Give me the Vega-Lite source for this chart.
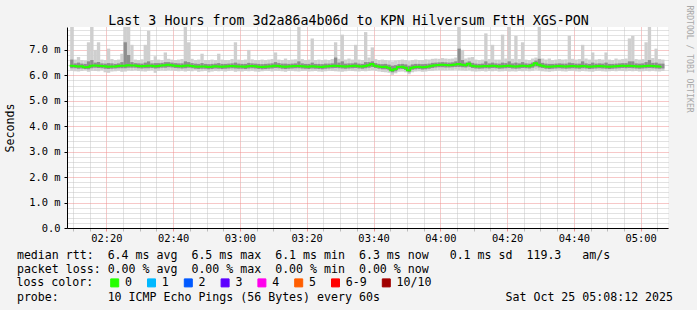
{
"$schema":"https://vega.github.io/schema/vega-lite/v6.json",
"autosize":"none",
"width":601,"height":201,
"padding":{"left":67,"top":27,"right":29,"bottom":82},
"background":"#f3f3f3",
"view":{"fill":"#ffffff","stroke":null},
"config":{"font":"DejaVu Sans Mono"},
"title":{"text":"Last 3 Hours from 3d2a86a4b06d to KPN Hilversum FttH XGS-PON","font":"DejaVu Sans Mono","fontSize":13.3,"fontWeight":"normal","color":"#000000","anchor":"middle","dx":-19,"dy":37,"offset":4,"baseline":"alphabetic"},
"data":{"values":[
{"t":"2025-10-25T02:09Z","med":6.38,"lo":6.18,"hi":7.9,"dlo":6.28,"dhi":6.62},
{"t":"2025-10-25T02:10Z","med":6.37,"lo":6.16,"hi":6.62,"dlo":6.28,"dhi":6.47},
{"t":"2025-10-25T02:11Z","med":6.35,"lo":6.15,"hi":6.72,"dlo":6.26,"dhi":6.5},
{"t":"2025-10-25T02:12Z","med":6.36,"lo":6.17,"hi":6.6,"dlo":6.27,"dhi":6.46},
{"t":"2025-10-25T02:13Z","med":6.32,"lo":6.2,"hi":6.58,"dlo":6.25,"dhi":6.45},
{"t":"2025-10-25T02:14Z","med":6.33,"lo":6.14,"hi":7.3,"dlo":6.24,"dhi":6.55},
{"t":"2025-10-25T02:15Z","med":6.38,"lo":6.18,"hi":7.9,"dlo":6.28,"dhi":6.6},
{"t":"2025-10-25T02:16Z","med":6.39,"lo":6.17,"hi":7.0,"dlo":6.3,"dhi":6.5},
{"t":"2025-10-25T02:17Z","med":6.38,"lo":6.16,"hi":7.3,"dlo":6.29,"dhi":6.52},
{"t":"2025-10-25T02:18Z","med":6.37,"lo":6.2,"hi":6.62,"dlo":6.28,"dhi":6.47},
{"t":"2025-10-25T02:19Z","med":6.36,"lo":6.12,"hi":6.6,"dlo":6.26,"dhi":6.46},
{"t":"2025-10-25T02:20Z","med":6.34,"lo":6.1,"hi":7.05,"dlo":6.25,"dhi":6.48},
{"t":"2025-10-25T02:21Z","med":6.35,"lo":6.15,"hi":6.64,"dlo":6.26,"dhi":6.47},
{"t":"2025-10-25T02:22Z","med":6.35,"lo":6.16,"hi":6.6,"dlo":6.27,"dhi":6.45},
{"t":"2025-10-25T02:23Z","med":6.37,"lo":6.18,"hi":6.62,"dlo":6.28,"dhi":6.47},
{"t":"2025-10-25T02:24Z","med":6.38,"lo":6.14,"hi":6.85,"dlo":6.28,"dhi":6.52},
{"t":"2025-10-25T02:25Z","med":6.38,"lo":6.15,"hi":7.9,"dlo":6.28,"dhi":7.3},
{"t":"2025-10-25T02:26Z","med":6.4,"lo":6.19,"hi":7.9,"dlo":6.3,"dhi":6.8},
{"t":"2025-10-25T02:27Z","med":6.39,"lo":6.18,"hi":7.2,"dlo":6.3,"dhi":6.52},
{"t":"2025-10-25T02:28Z","med":6.39,"lo":6.2,"hi":6.62,"dlo":6.3,"dhi":6.48},
{"t":"2025-10-25T02:29Z","med":6.37,"lo":6.17,"hi":6.6,"dlo":6.28,"dhi":6.47},
{"t":"2025-10-25T02:30Z","med":6.36,"lo":6.16,"hi":6.63,"dlo":6.27,"dhi":6.46},
{"t":"2025-10-25T02:31Z","med":6.37,"lo":6.15,"hi":7.2,"dlo":6.28,"dhi":6.5},
{"t":"2025-10-25T02:32Z","med":6.38,"lo":6.18,"hi":7.75,"dlo":6.28,"dhi":6.55},
{"t":"2025-10-25T02:33Z","med":6.38,"lo":6.2,"hi":6.6,"dlo":6.29,"dhi":6.47},
{"t":"2025-10-25T02:34Z","med":6.36,"lo":6.1,"hi":6.75,"dlo":6.27,"dhi":6.48},
{"t":"2025-10-25T02:35Z","med":6.37,"lo":6.17,"hi":6.62,"dlo":6.28,"dhi":6.48},
{"t":"2025-10-25T02:36Z","med":6.39,"lo":6.19,"hi":6.6,"dlo":6.3,"dhi":6.49},
{"t":"2025-10-25T02:37Z","med":6.4,"lo":6.18,"hi":6.9,"dlo":6.3,"dhi":6.52},
{"t":"2025-10-25T02:38Z","med":6.42,"lo":6.2,"hi":6.65,"dlo":6.32,"dhi":6.52},
{"t":"2025-10-25T02:39Z","med":6.4,"lo":6.19,"hi":6.62,"dlo":6.31,"dhi":6.5},
{"t":"2025-10-25T02:40Z","med":6.38,"lo":6.17,"hi":6.6,"dlo":6.29,"dhi":6.48},
{"t":"2025-10-25T02:41Z","med":6.37,"lo":6.16,"hi":6.62,"dlo":6.28,"dhi":6.47},
{"t":"2025-10-25T02:42Z","med":6.36,"lo":6.18,"hi":6.64,"dlo":6.27,"dhi":6.47},
{"t":"2025-10-25T02:43Z","med":6.38,"lo":6.15,"hi":7.9,"dlo":6.28,"dhi":6.55},
{"t":"2025-10-25T02:44Z","med":6.39,"lo":6.17,"hi":7.3,"dlo":6.3,"dhi":6.52},
{"t":"2025-10-25T02:45Z","med":6.37,"lo":6.16,"hi":6.65,"dlo":6.28,"dhi":6.48},
{"t":"2025-10-25T02:46Z","med":6.35,"lo":6.2,"hi":6.6,"dlo":6.26,"dhi":6.46},
{"t":"2025-10-25T02:47Z","med":6.34,"lo":6.14,"hi":6.62,"dlo":6.25,"dhi":6.45},
{"t":"2025-10-25T02:48Z","med":6.35,"lo":6.16,"hi":6.85,"dlo":6.26,"dhi":6.48},
{"t":"2025-10-25T02:49Z","med":6.35,"lo":6.18,"hi":6.6,"dlo":6.26,"dhi":6.45},
{"t":"2025-10-25T02:50Z","med":6.33,"lo":6.12,"hi":6.6,"dlo":6.24,"dhi":6.44},
{"t":"2025-10-25T02:51Z","med":6.34,"lo":6.15,"hi":6.62,"dlo":6.25,"dhi":6.45},
{"t":"2025-10-25T02:52Z","med":6.36,"lo":6.17,"hi":6.6,"dlo":6.27,"dhi":6.46},
{"t":"2025-10-25T02:53Z","med":6.35,"lo":6.16,"hi":6.85,"dlo":6.26,"dhi":6.48},
{"t":"2025-10-25T02:54Z","med":6.34,"lo":6.18,"hi":6.62,"dlo":6.25,"dhi":6.45},
{"t":"2025-10-25T02:55Z","med":6.35,"lo":6.15,"hi":6.6,"dlo":6.26,"dhi":6.45},
{"t":"2025-10-25T02:56Z","med":6.36,"lo":6.17,"hi":6.6,"dlo":6.27,"dhi":6.46},
{"t":"2025-10-25T02:57Z","med":6.37,"lo":6.19,"hi":6.64,"dlo":6.28,"dhi":6.47},
{"t":"2025-10-25T02:58Z","med":6.36,"lo":6.14,"hi":7.3,"dlo":6.27,"dhi":6.5},
{"t":"2025-10-25T02:59Z","med":6.35,"lo":6.16,"hi":6.62,"dlo":6.26,"dhi":6.46},
{"t":"2025-10-25T03:00Z","med":6.35,"lo":6.15,"hi":6.6,"dlo":6.26,"dhi":6.45},
{"t":"2025-10-25T03:01Z","med":6.34,"lo":6.17,"hi":6.62,"dlo":6.25,"dhi":6.45},
{"t":"2025-10-25T03:02Z","med":6.36,"lo":6.16,"hi":7.0,"dlo":6.27,"dhi":6.49},
{"t":"2025-10-25T03:03Z","med":6.37,"lo":6.18,"hi":6.63,"dlo":6.28,"dhi":6.47},
{"t":"2025-10-25T03:04Z","med":6.36,"lo":6.15,"hi":6.6,"dlo":6.27,"dhi":6.46},
{"t":"2025-10-25T03:05Z","med":6.34,"lo":6.14,"hi":6.6,"dlo":6.25,"dhi":6.45},
{"t":"2025-10-25T03:06Z","med":6.33,"lo":6.16,"hi":6.62,"dlo":6.24,"dhi":6.44},
{"t":"2025-10-25T03:07Z","med":6.34,"lo":6.18,"hi":6.6,"dlo":6.25,"dhi":6.45},
{"t":"2025-10-25T03:08Z","med":6.35,"lo":6.17,"hi":6.62,"dlo":6.26,"dhi":6.46},
{"t":"2025-10-25T03:09Z","med":6.36,"lo":6.15,"hi":6.64,"dlo":6.27,"dhi":6.47},
{"t":"2025-10-25T03:10Z","med":6.38,"lo":6.18,"hi":6.9,"dlo":6.29,"dhi":6.52},
{"t":"2025-10-25T03:11Z","med":6.37,"lo":6.17,"hi":6.62,"dlo":6.28,"dhi":6.48},
{"t":"2025-10-25T03:12Z","med":6.35,"lo":6.16,"hi":6.6,"dlo":6.26,"dhi":6.46},
{"t":"2025-10-25T03:13Z","med":6.34,"lo":6.14,"hi":6.66,"dlo":6.25,"dhi":6.46},
{"t":"2025-10-25T03:14Z","med":6.35,"lo":6.17,"hi":6.6,"dlo":6.26,"dhi":6.45},
{"t":"2025-10-25T03:15Z","med":6.36,"lo":6.18,"hi":6.62,"dlo":6.27,"dhi":6.46},
{"t":"2025-10-25T03:16Z","med":6.37,"lo":6.16,"hi":6.63,"dlo":6.28,"dhi":6.47},
{"t":"2025-10-25T03:17Z","med":6.37,"lo":6.15,"hi":7.9,"dlo":6.28,"dhi":6.55},
{"t":"2025-10-25T03:18Z","med":6.36,"lo":6.17,"hi":6.64,"dlo":6.27,"dhi":6.47},
{"t":"2025-10-25T03:19Z","med":6.35,"lo":6.18,"hi":6.6,"dlo":6.26,"dhi":6.45},
{"t":"2025-10-25T03:20Z","med":6.34,"lo":6.15,"hi":6.62,"dlo":6.25,"dhi":6.45},
{"t":"2025-10-25T03:21Z","med":6.36,"lo":6.16,"hi":7.45,"dlo":6.27,"dhi":6.5},
{"t":"2025-10-25T03:22Z","med":6.35,"lo":6.17,"hi":6.6,"dlo":6.26,"dhi":6.45},
{"t":"2025-10-25T03:23Z","med":6.34,"lo":6.15,"hi":6.62,"dlo":6.25,"dhi":6.45},
{"t":"2025-10-25T03:24Z","med":6.33,"lo":6.14,"hi":6.6,"dlo":6.24,"dhi":6.44},
{"t":"2025-10-25T03:25Z","med":6.35,"lo":6.16,"hi":6.62,"dlo":6.26,"dhi":6.46},
{"t":"2025-10-25T03:26Z","med":6.36,"lo":6.18,"hi":6.6,"dlo":6.27,"dhi":6.46},
{"t":"2025-10-25T03:27Z","med":6.37,"lo":6.17,"hi":6.64,"dlo":6.28,"dhi":6.47},
{"t":"2025-10-25T03:28Z","med":6.38,"lo":6.16,"hi":7.3,"dlo":6.29,"dhi":6.7},
{"t":"2025-10-25T03:29Z","med":6.37,"lo":6.15,"hi":6.65,"dlo":6.28,"dhi":6.5},
{"t":"2025-10-25T03:30Z","med":6.36,"lo":6.14,"hi":7.6,"dlo":6.27,"dhi":6.55},
{"t":"2025-10-25T03:31Z","med":6.35,"lo":6.16,"hi":6.62,"dlo":6.26,"dhi":6.46},
{"t":"2025-10-25T03:32Z","med":6.36,"lo":6.18,"hi":6.66,"dlo":6.27,"dhi":6.47},
{"t":"2025-10-25T03:33Z","med":6.37,"lo":6.17,"hi":6.62,"dlo":6.28,"dhi":6.47},
{"t":"2025-10-25T03:34Z","med":6.38,"lo":6.16,"hi":7.2,"dlo":6.29,"dhi":6.5},
{"t":"2025-10-25T03:35Z","med":6.36,"lo":6.15,"hi":6.62,"dlo":6.27,"dhi":6.46},
{"t":"2025-10-25T03:36Z","med":6.35,"lo":6.17,"hi":6.6,"dlo":6.26,"dhi":6.45},
{"t":"2025-10-25T03:37Z","med":6.37,"lo":6.16,"hi":7.7,"dlo":6.28,"dhi":6.52},
{"t":"2025-10-25T03:38Z","med":6.4,"lo":6.18,"hi":6.7,"dlo":6.3,"dhi":6.52},
{"t":"2025-10-25T03:39Z","med":6.45,"lo":6.2,"hi":7.1,"dlo":6.33,"dhi":6.55},
{"t":"2025-10-25T03:40Z","med":6.38,"lo":6.17,"hi":6.64,"dlo":6.29,"dhi":6.48},
{"t":"2025-10-25T03:41Z","med":6.35,"lo":6.15,"hi":6.6,"dlo":6.26,"dhi":6.45},
{"t":"2025-10-25T03:42Z","med":6.33,"lo":6.13,"hi":6.62,"dlo":6.24,"dhi":6.44},
{"t":"2025-10-25T03:43Z","med":6.34,"lo":6.12,"hi":6.6,"dlo":6.24,"dhi":6.45},
{"t":"2025-10-25T03:44Z","med":6.3,"lo":6.1,"hi":6.58,"dlo":6.2,"dhi":6.42},
{"t":"2025-10-25T03:45Z","med":6.2,"lo":6.02,"hi":6.55,"dlo":6.12,"dhi":6.38},
{"t":"2025-10-25T03:46Z","med":6.25,"lo":6.08,"hi":6.58,"dlo":6.16,"dhi":6.4},
{"t":"2025-10-25T03:47Z","med":6.33,"lo":6.14,"hi":6.6,"dlo":6.24,"dhi":6.44},
{"t":"2025-10-25T03:48Z","med":6.34,"lo":6.15,"hi":6.62,"dlo":6.25,"dhi":6.45},
{"t":"2025-10-25T03:49Z","med":6.3,"lo":6.12,"hi":6.6,"dlo":6.21,"dhi":6.43},
{"t":"2025-10-25T03:50Z","med":6.2,"lo":6.04,"hi":6.56,"dlo":6.12,"dhi":6.38},
{"t":"2025-10-25T03:51Z","med":6.3,"lo":6.12,"hi":6.6,"dlo":6.22,"dhi":6.43},
{"t":"2025-10-25T03:52Z","med":6.33,"lo":6.15,"hi":6.62,"dlo":6.24,"dhi":6.45},
{"t":"2025-10-25T03:53Z","med":6.34,"lo":6.16,"hi":6.6,"dlo":6.25,"dhi":6.45},
{"t":"2025-10-25T03:54Z","med":6.32,"lo":6.14,"hi":6.6,"dlo":6.23,"dhi":6.44},
{"t":"2025-10-25T03:55Z","med":6.33,"lo":6.15,"hi":6.63,"dlo":6.24,"dhi":6.45},
{"t":"2025-10-25T03:56Z","med":6.35,"lo":6.17,"hi":6.62,"dlo":6.26,"dhi":6.46},
{"t":"2025-10-25T03:57Z","med":6.38,"lo":6.18,"hi":6.65,"dlo":6.29,"dhi":6.49},
{"t":"2025-10-25T03:58Z","med":6.4,"lo":6.2,"hi":6.66,"dlo":6.31,"dhi":6.5},
{"t":"2025-10-25T03:59Z","med":6.41,"lo":6.21,"hi":6.65,"dlo":6.32,"dhi":6.51},
{"t":"2025-10-25T04:00Z","med":6.42,"lo":6.2,"hi":6.68,"dlo":6.32,"dhi":6.52},
{"t":"2025-10-25T04:01Z","med":6.41,"lo":6.19,"hi":6.66,"dlo":6.31,"dhi":6.51},
{"t":"2025-10-25T04:02Z","med":6.4,"lo":6.2,"hi":6.65,"dlo":6.31,"dhi":6.5},
{"t":"2025-10-25T04:03Z","med":6.41,"lo":6.2,"hi":6.66,"dlo":6.32,"dhi":6.51},
{"t":"2025-10-25T04:04Z","med":6.43,"lo":6.22,"hi":6.7,"dlo":6.33,"dhi":6.55},
{"t":"2025-10-25T04:05Z","med":6.45,"lo":6.2,"hi":7.9,"dlo":6.33,"dhi":7.05},
{"t":"2025-10-25T04:06Z","med":6.42,"lo":6.19,"hi":7.0,"dlo":6.32,"dhi":6.6},
{"t":"2025-10-25T04:07Z","med":6.4,"lo":6.18,"hi":6.66,"dlo":6.31,"dhi":6.5},
{"t":"2025-10-25T04:08Z","med":6.46,"lo":6.2,"hi":6.7,"dlo":6.34,"dhi":6.55},
{"t":"2025-10-25T04:09Z","med":6.38,"lo":6.16,"hi":6.72,"dlo":6.29,"dhi":6.49},
{"t":"2025-10-25T04:10Z","med":6.36,"lo":6.15,"hi":6.62,"dlo":6.27,"dhi":6.46},
{"t":"2025-10-25T04:11Z","med":6.35,"lo":6.16,"hi":6.6,"dlo":6.26,"dhi":6.45},
{"t":"2025-10-25T04:12Z","med":6.36,"lo":6.17,"hi":6.62,"dlo":6.27,"dhi":6.46},
{"t":"2025-10-25T04:13Z","med":6.37,"lo":6.15,"hi":7.65,"dlo":6.28,"dhi":6.55},
{"t":"2025-10-25T04:14Z","med":6.36,"lo":6.17,"hi":6.64,"dlo":6.27,"dhi":6.47},
{"t":"2025-10-25T04:15Z","med":6.38,"lo":6.16,"hi":7.2,"dlo":6.29,"dhi":6.5},
{"t":"2025-10-25T04:16Z","med":6.37,"lo":6.18,"hi":6.62,"dlo":6.28,"dhi":6.47},
{"t":"2025-10-25T04:17Z","med":6.35,"lo":6.15,"hi":6.62,"dlo":6.26,"dhi":6.46},
{"t":"2025-10-25T04:18Z","med":6.36,"lo":6.16,"hi":7.6,"dlo":6.27,"dhi":6.5},
{"t":"2025-10-25T04:19Z","med":6.37,"lo":6.17,"hi":6.66,"dlo":6.28,"dhi":6.48},
{"t":"2025-10-25T04:20Z","med":6.38,"lo":6.15,"hi":7.9,"dlo":6.29,"dhi":6.55},
{"t":"2025-10-25T04:21Z","med":6.36,"lo":6.16,"hi":6.65,"dlo":6.27,"dhi":6.47},
{"t":"2025-10-25T04:22Z","med":6.35,"lo":6.15,"hi":7.55,"dlo":6.26,"dhi":6.5},
{"t":"2025-10-25T04:23Z","med":6.36,"lo":6.17,"hi":6.64,"dlo":6.27,"dhi":6.47},
{"t":"2025-10-25T04:24Z","med":6.38,"lo":6.16,"hi":7.3,"dlo":6.29,"dhi":6.52},
{"t":"2025-10-25T04:25Z","med":6.37,"lo":6.18,"hi":6.62,"dlo":6.28,"dhi":6.47},
{"t":"2025-10-25T04:26Z","med":6.36,"lo":6.16,"hi":6.6,"dlo":6.27,"dhi":6.46},
{"t":"2025-10-25T04:27Z","med":6.4,"lo":6.18,"hi":6.66,"dlo":6.3,"dhi":6.5},
{"t":"2025-10-25T04:28Z","med":6.48,"lo":6.22,"hi":6.7,"dlo":6.35,"dhi":6.58},
{"t":"2025-10-25T04:29Z","med":6.42,"lo":6.19,"hi":7.9,"dlo":6.31,"dhi":6.65},
{"t":"2025-10-25T04:30Z","med":6.38,"lo":6.16,"hi":6.66,"dlo":6.29,"dhi":6.49},
{"t":"2025-10-25T04:31Z","med":6.35,"lo":6.15,"hi":6.62,"dlo":6.26,"dhi":6.46},
{"t":"2025-10-25T04:32Z","med":6.34,"lo":6.14,"hi":6.66,"dlo":6.25,"dhi":6.45},
{"t":"2025-10-25T04:33Z","med":6.35,"lo":6.16,"hi":6.6,"dlo":6.26,"dhi":6.45},
{"t":"2025-10-25T04:34Z","med":6.36,"lo":6.17,"hi":6.62,"dlo":6.27,"dhi":6.46},
{"t":"2025-10-25T04:35Z","med":6.37,"lo":6.18,"hi":6.64,"dlo":6.28,"dhi":6.47},
{"t":"2025-10-25T04:36Z","med":6.36,"lo":6.16,"hi":6.62,"dlo":6.27,"dhi":6.46},
{"t":"2025-10-25T04:37Z","med":6.35,"lo":6.15,"hi":6.63,"dlo":6.26,"dhi":6.46},
{"t":"2025-10-25T04:38Z","med":6.36,"lo":6.17,"hi":7.55,"dlo":6.27,"dhi":6.5},
{"t":"2025-10-25T04:39Z","med":6.37,"lo":6.18,"hi":6.65,"dlo":6.28,"dhi":6.48},
{"t":"2025-10-25T04:40Z","med":6.36,"lo":6.16,"hi":6.62,"dlo":6.27,"dhi":6.46},
{"t":"2025-10-25T04:41Z","med":6.35,"lo":6.15,"hi":6.64,"dlo":6.26,"dhi":6.46},
{"t":"2025-10-25T04:42Z","med":6.37,"lo":6.17,"hi":7.2,"dlo":6.28,"dhi":6.55},
{"t":"2025-10-25T04:43Z","med":6.36,"lo":6.16,"hi":6.66,"dlo":6.27,"dhi":6.47},
{"t":"2025-10-25T04:44Z","med":6.34,"lo":6.15,"hi":6.62,"dlo":6.25,"dhi":6.45},
{"t":"2025-10-25T04:45Z","med":6.35,"lo":6.14,"hi":6.9,"dlo":6.26,"dhi":6.5},
{"t":"2025-10-25T04:46Z","med":6.36,"lo":6.17,"hi":6.62,"dlo":6.27,"dhi":6.46},
{"t":"2025-10-25T04:47Z","med":6.37,"lo":6.18,"hi":6.64,"dlo":6.28,"dhi":6.47},
{"t":"2025-10-25T04:48Z","med":6.36,"lo":6.16,"hi":6.62,"dlo":6.27,"dhi":6.46},
{"t":"2025-10-25T04:49Z","med":6.35,"lo":6.15,"hi":6.9,"dlo":6.26,"dhi":6.5},
{"t":"2025-10-25T04:50Z","med":6.34,"lo":6.16,"hi":6.62,"dlo":6.25,"dhi":6.45},
{"t":"2025-10-25T04:51Z","med":6.35,"lo":6.17,"hi":6.6,"dlo":6.26,"dhi":6.45},
{"t":"2025-10-25T04:52Z","med":6.36,"lo":6.16,"hi":6.66,"dlo":6.27,"dhi":6.46},
{"t":"2025-10-25T04:53Z","med":6.37,"lo":6.18,"hi":6.62,"dlo":6.28,"dhi":6.47},
{"t":"2025-10-25T04:54Z","med":6.38,"lo":6.17,"hi":6.64,"dlo":6.29,"dhi":6.48},
{"t":"2025-10-25T04:55Z","med":6.37,"lo":6.16,"hi":6.66,"dlo":6.28,"dhi":6.48},
{"t":"2025-10-25T04:56Z","med":6.38,"lo":6.17,"hi":7.45,"dlo":6.29,"dhi":6.55},
{"t":"2025-10-25T04:57Z","med":6.37,"lo":6.16,"hi":7.55,"dlo":6.28,"dhi":6.55},
{"t":"2025-10-25T04:58Z","med":6.36,"lo":6.17,"hi":6.64,"dlo":6.27,"dhi":6.47},
{"t":"2025-10-25T04:59Z","med":6.35,"lo":6.15,"hi":6.62,"dlo":6.26,"dhi":6.46},
{"t":"2025-10-25T05:00Z","med":6.36,"lo":6.16,"hi":6.64,"dlo":6.27,"dhi":6.47},
{"t":"2025-10-25T05:01Z","med":6.37,"lo":6.17,"hi":7.3,"dlo":6.28,"dhi":6.52},
{"t":"2025-10-25T05:02Z","med":6.38,"lo":6.16,"hi":7.9,"dlo":6.29,"dhi":6.6},
{"t":"2025-10-25T05:03Z","med":6.37,"lo":6.18,"hi":6.68,"dlo":6.28,"dhi":6.49},
{"t":"2025-10-25T05:04Z","med":6.36,"lo":6.16,"hi":7.05,"dlo":6.27,"dhi":6.5},
{"t":"2025-10-25T05:05Z","med":6.35,"lo":6.15,"hi":6.64,"dlo":6.26,"dhi":6.46},
{"t":"2025-10-25T05:06Z","med":6.36,"lo":6.17,"hi":6.62,"dlo":6.27,"dhi":6.46}
]},
"layer":[
 {"mark":{"type":"bar","color":"#cfcfcf","clip":true,"binSpacing":0},
  "encoding":{
   "x":{"field":"t","type":"temporal","timeUnit":"utcyearmonthdatehoursminutes",
    "scale":{"type":"utc","domain":[1761358092000,1761368892000]},
    "axis":{"orient":"bottom",
     "values":[1761358200000,1761358500000,1761358800000,1761359100000,1761359400000,1761359700000,1761360000000,1761360300000,1761360600000,1761360900000,1761361200000,1761361500000,1761361800000,1761362100000,1761362400000,1761362700000,1761363000000,1761363300000,1761363600000,1761363900000,1761364200000,1761364500000,1761364800000,1761365100000,1761365400000,1761365700000,1761366000000,1761366300000,1761366600000,1761366900000,1761367200000,1761367500000,1761367800000,1761368100000,1761368400000,1761368700000],
     "labelExpr":"utcminutes(datum.value) % 20 == 0 ? utcFormat(datum.value, '%H:%M') : ''",
     "labelFont":"DejaVu Sans Mono","labelFontSize":10.4,"labelColor":"#000000","labelPadding":2,"labelOverlap":false,"labelFlush":false,
     "grid":true,"gridDash":[1,1],"gridOpacity":1,
     "gridColor":{"condition":{"test":"utcminutes(datum.value) % 20 == 0","value":"#ee9090"},"value":"#c4c4c4"},
     "tickSize":3,"tickColor":{"condition":{"test":"utcminutes(datum.value) % 20 == 0","value":"#ee9090"},"value":"#bbbbbb"},
     "domainColor":"#000000","domainWidth":1,
     "title":["median rtt:\u00a0\u00a06.4 ms avg\u00a0\u00a06.5 ms max\u00a0\u00a06.1 ms min\u00a0\u00a06.3 ms now\u00a0\u00a0\u00a00.1 ms sd\u00a0\u00a0119.3\u00a0\u00a0\u00a0am/s","packet loss: 0.00 % avg\u00a0\u00a00.00 % max\u00a0\u00a00.00 % min\u00a0\u00a00.00 % now"],
     "titleX":-50.6,"titleY":30,"titleAlign":"left","titleAnchor":"start","titleBaseline":"alphabetic",
     "titleFont":"DejaVu Sans Mono","titleFontSize":11.6,"titleFontWeight":"normal","titleColor":"#000000","titleLineHeight":14}},
   "y":{"field":"lo","type":"quantitative","scale":{"domain":[0,7.9],"nice":false,"zero":false},
    "axis":{"orient":"left","values":[0,0.2,0.4,0.6,0.8,1,1.2,1.4,1.6,1.8,2,2.2,2.4,2.6,2.8,3,3.2,3.4,3.6,3.8,4,4.2,4.4,4.6,4.8,5,5.2,5.4,5.6,5.8,6,6.2,6.4,6.6,6.8,7,7.2,7.4,7.6,7.8],
     "labelExpr":"datum.value == 0 ? '0.0' : (datum.value % 1 == 0 ? format(datum.value, '.1f') + ' m' : '')",
     "labelFont":"DejaVu Sans Mono","labelFontSize":10.4,"labelColor":"#000000","labelPadding":4,"labelOverlap":false,"labelFlush":false,
     "grid":true,"gridDash":[1,1],"gridOpacity":1,
     "gridColor":{"condition":{"test":"datum.value % 1 == 0","value":"#ee9090"},"value":"#c4c4c4"},
     "tickSize":3,"tickColor":{"condition":{"test":"datum.value % 1 == 0","value":"#000000"},"value":"transparent"},
     "domainColor":"#000000","domainWidth":1,
     "title":"Seconds","titleFont":"DejaVu Sans Mono","titleFontSize":11.6,"titleFontWeight":"normal","titleColor":"#000000","titleX":-57,"titleBaseline":"middle"}},
   "y2":{"field":"hi"}}},
 {"mark":{"type":"bar","color":"#8e8e8e","clip":true,"binSpacing":0},
  "encoding":{
   "x":{"field":"t","type":"temporal","timeUnit":"utcyearmonthdatehoursminutes",
    "scale":{"type":"utc","domain":[1761358092000,1761368892000]},
    "axis":{"orient":"top","grid":false,"labels":false,"ticks":false,"domain":false,
     "title":"probe:\u00a0\u00a0\u00a0\u00a0\u00a0\u00a0\u00a010 ICMP Echo Pings (56 Bytes) every 60s\u00a0\u00a0\u00a0\u00a0\u00a0\u00a0\u00a0\u00a0\u00a0\u00a0\u00a0\u00a0\u00a0\u00a0\u00a0\u00a0\u00a0\u00a0Sat Oct 25 05:08:12 2025",
     "titleX":-50.6,"titleY":273,"titleAlign":"left","titleAnchor":"start","titleBaseline":"alphabetic",
     "titleFont":"DejaVu Sans Mono","titleFontSize":11.6,"titleFontWeight":"normal","titleColor":"#000000"}},
   "y":{"field":"dlo","type":"quantitative","scale":{"domain":[0,7.9],"nice":false,"zero":false},"axis":null},
   "y2":{"field":"dhi"}}},
 {"mark":{"type":"line","interpolate":"step-after","strokeWidth":2,"clip":true},
  "encoding":{
   "x":{"field":"t","type":"temporal","timeUnit":"utcyearmonthdatehoursminutes",
    "scale":{"type":"utc","domain":[1761358092000,1761368892000]},"axis":null},
   "y":{"field":"med","type":"quantitative","scale":{"domain":[0,7.9],"nice":false,"zero":false},
    "axis":{"orient":"right","grid":false,"labels":false,"ticks":false,"domain":false,"title":"RRDTOOL / TOBI OETIKER","titleAngle":90,"titleX":20,"titleY":-22,"titleAlign":"left","titleBaseline":"middle","titleFont":"DejaVu Sans Mono","titleFontSize":8.1,"titleFontWeight":"normal","titleColor":"#a8a8a8"}},
   "color":{"datum":"0","type":"nominal",
    "scale":{"domain":["0","1","2","3","4","5","6-9","10/10"],"range":["#26ff00","#00b8ff","#0059ff","#5e00ff","#ff00ec","#ff5e00","#ff0000","#a10000"]},
    "legend":{"orient":"none","legendX":-50.6,"legendY":250,"direction":"horizontal","columns":8,
     "title":"loss color:","titleOrient":"left","titleFont":"DejaVu Sans Mono","titleFontSize":11.6,"titleFontWeight":"normal","titleColor":"#000000","titlePadding":15.5,"titleBaseline":"middle",
     "labelFont":"DejaVu Sans Mono","labelFontSize":11.6,"labelColor":"#000000","labelOffset":4.5,"columnPadding":11.8,
     "symbolType":"square","symbolSize":64,"symbolStrokeColor":"#000000","symbolStrokeWidth":1,"padding":0,
     "encode":{"symbols":{"update":{"fill":{"scale":"color","field":"value"},"stroke":{"value":"#000000"},"strokeWidth":{"value":1},"fillOpacity":{"value":1},"opacity":{"value":1}}}}}}}}
],
"resolve":{"axis":{"x":"independent","y":"independent"}}
}
